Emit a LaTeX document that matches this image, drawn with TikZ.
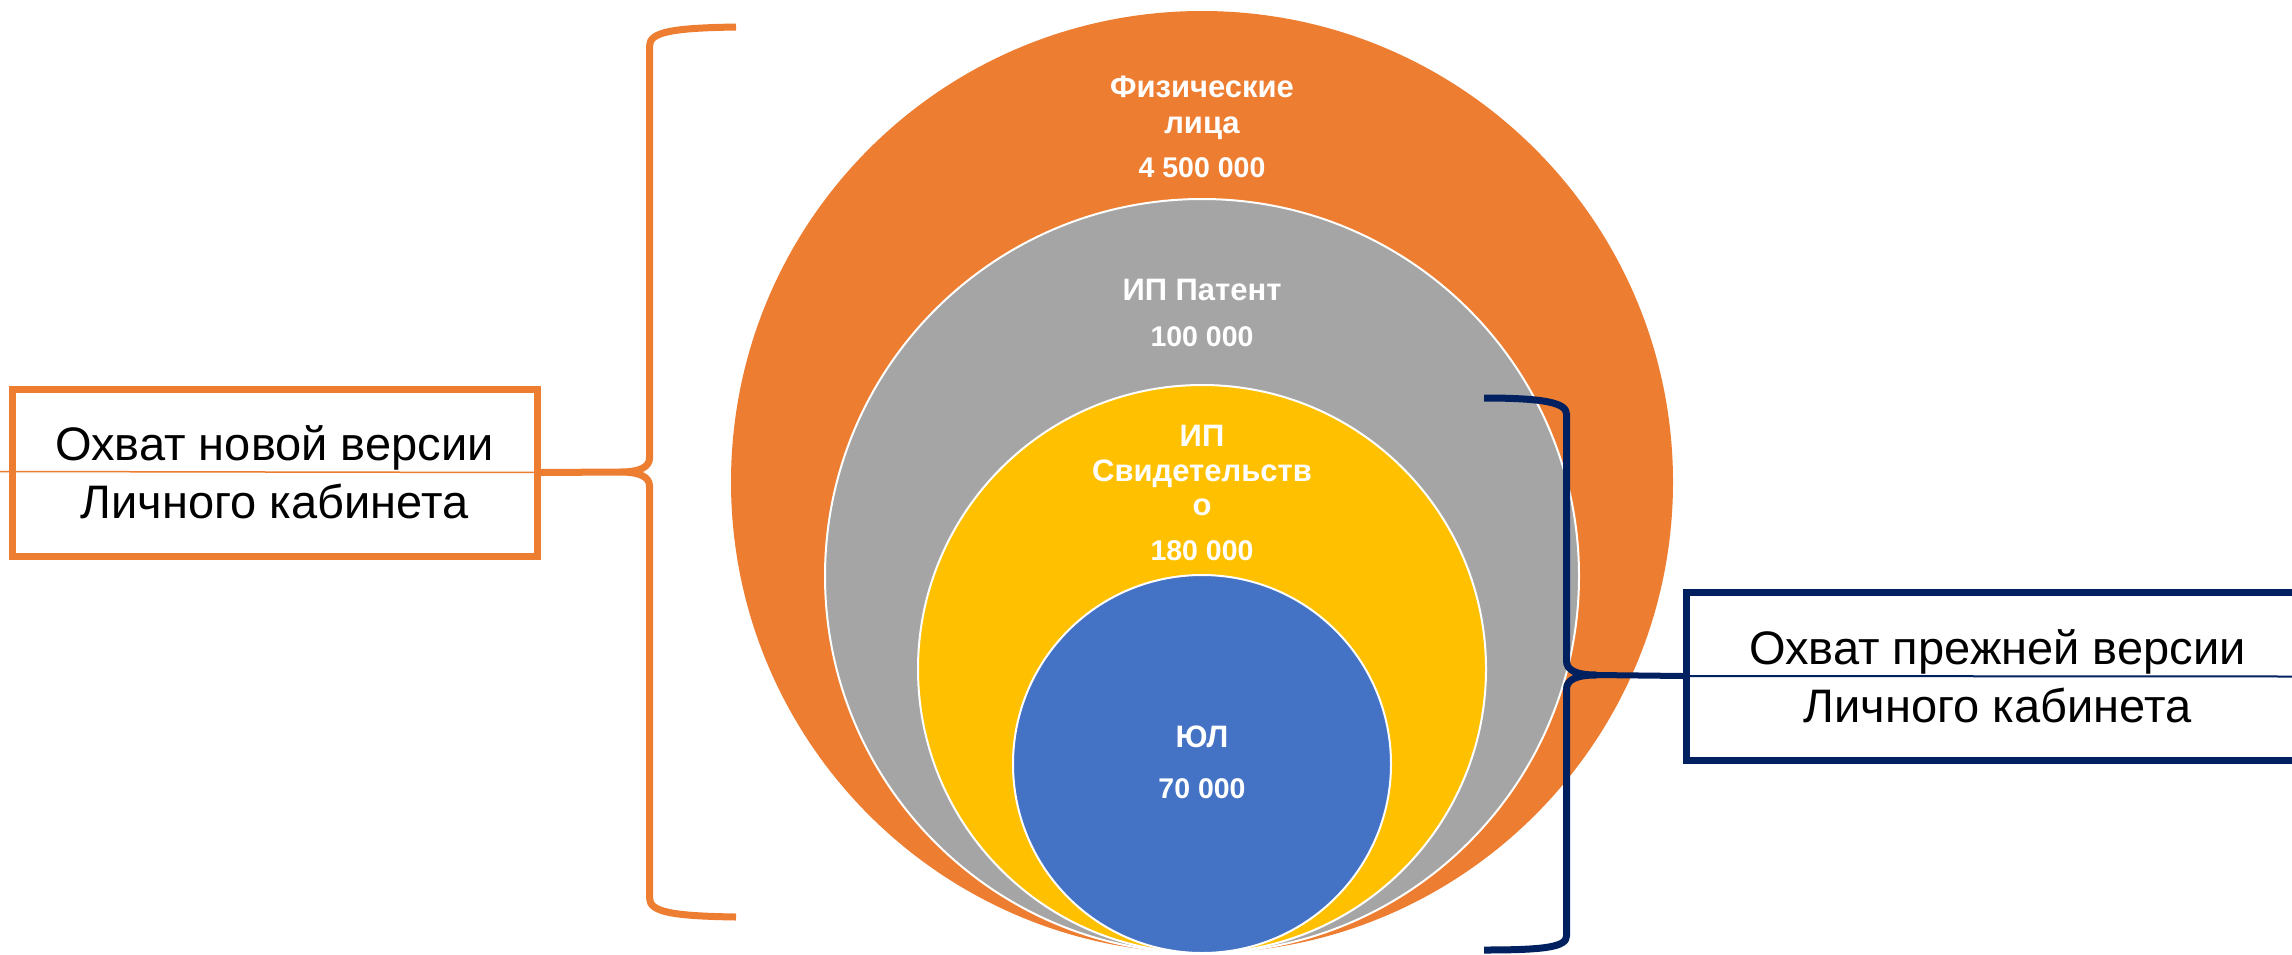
\documentclass[tikz,border=0pt]{standalone}
\usepackage{fontspec}
\setmainfont{Liberation Sans}
\definecolor{cOrange}{HTML}{ED7D31}
\definecolor{cGray}{HTML}{A5A5A5}
\definecolor{cYellow}{HTML}{FFC000}
\definecolor{cBlue}{HTML}{4472C4}
\definecolor{cNavy}{HTML}{002060}
\begin{document}
\begin{tikzpicture}[x=1pt,y=-1pt,
  ring/.style={circle, inner sep=0pt, draw=white, line width=2pt},
  ctext/.style={anchor=base, inner sep=0pt, text=white, font=\fontsize{31}{36}\selectfont\bfseries},
  dtext/.style={anchor=base, inner sep=0pt, text=white, font=\fontsize{28.5}{34}\selectfont\bfseries},
  btext/.style={anchor=base, inner sep=0pt, text=black, font=\fontsize{47}{58}\selectfont},
  obox/.style={draw=cOrange, line width=7pt, inner sep=0pt},
  nbox/.style={draw=cNavy, line width=7pt, inner sep=0pt},
  obrace/.style={draw=cOrange, line width=7pt, line join=round},
  nbrace/.style={draw=cNavy, line width=7pt, line join=round}]
\useasboundingbox (0,0) rectangle (2292,954);
\clip (0,0) rectangle (2292,954);
% circles
\node[ring, fill=cOrange, draw=none, minimum size=942pt] (fiz) at (1202,482) {};
\node[ring, fill=cGray, minimum size=754pt] (ipp) at (1202,576) {};
\node[ring, fill=cYellow, minimum size=568pt] (ips) at (1202,669) {};
\node[ring, fill=cBlue, minimum size=378pt] (yul) at (1202,764) {};
% circle labels
\node[ctext] (f1) at (1202,97) {Физические};
\node[ctext] (f2) at (1202,133) {лица};
\node[dtext] (f3) at (1202,177) {4 500 000};
\node[ctext] (p1) at (1202,300) {ИП Патент};
\node[dtext] (p2) at (1202,346) {100 000};
\node[ctext] (s1) at (1202,446) {ИП};
\node[ctext] (s2) at (1202,481) {Свидетельств};
\node[ctext] (s3) at (1202,515) {о};
\node[dtext] (s4) at (1202,560) {180 000};
\node[ctext] (y1) at (1202,747) {ЮЛ};
\node[dtext] (y2) at (1202,798) {70 000};
% boxes
\node[obox, minimum width=525pt, minimum height=167pt] (lbox) at (274.5,472.5) {};
\node[nbox, minimum width=621pt, minimum height=168pt] (rbox) at (1997,676) {};
\node[btext] (l1) at (274.5,460) {Охват новой версии};
\node[btext] (l2) at (274.5,518) {Личного кабинета};
\node[btext] (r1) at (1997.5,664) {Охват прежней версии};
\node[btext] (r2) at (1997.5,722) {Личного кабинета};
% left brace
\coordinate (lbTop) at (736,27);
\coordinate (lbBot) at (736,917);
\coordinate (lbTip) at (620,472);
\coordinate (lEdge) at (0,471.5);
\draw[cOrange, line width=1.5pt] (lEdge) -- (lbox.east);
\draw[obrace] (lbTop) .. controls (672,28) and (649.5,32) .. (649.5,46) -- (649.5,458)
  .. controls (649.5,467) and (640,472) .. (lbTip)
  .. controls (640,472) and (649.5,477) .. (649.5,486) -- (649.5,898)
  .. controls (649.5,912) and (672,916) .. (lbBot);
\draw[cOrange, line width=7pt] (lbTip) -- (lbox.east);
% right brace
\coordinate (rbTop) at (1484,398);
\coordinate (rbBot) at (1484,950);
\coordinate (rbTip) at (1596,675);
\coordinate (rEdge) at (2292,676.5);
\draw[cNavy, line width=2pt] (rbox.west) -- (rEdge);
\draw[nbrace] (rbTop) .. controls (1545,398) and (1566.5,403) .. (1566.5,414) -- (1566.5,661)
  .. controls (1566.5,670) and (1576,675) .. (rbTip)
  .. controls (1576,675) and (1566.5,680) .. (1566.5,689) -- (1566.5,936)
  .. controls (1566.5,947) and (1545,950) .. (rbBot);
\draw[cNavy, line width=6pt] (rbTip) -- (rbox.west);
\end{tikzpicture}
\end{document}
